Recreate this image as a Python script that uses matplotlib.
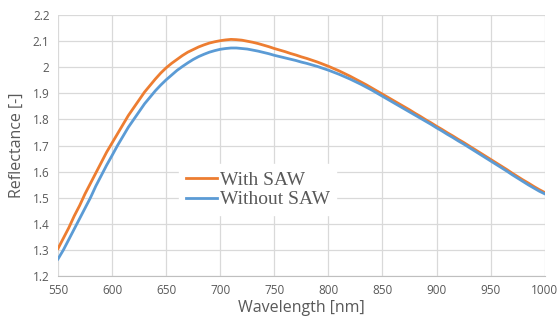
import matplotlib
matplotlib.use("Agg")
import matplotlib.pyplot as plt
import numpy as np
from matplotlib.ticker import FuncFormatter

# wavelength grid, read every 5 nm
wavelength = list(range(550, 1001, 5))

with_saw = [
    1.305, 1.345, 1.385, 1.430, 1.470, 1.515, 1.555, 1.595, 1.635, 1.675,
    1.710, 1.745, 1.780, 1.815, 1.845, 1.875, 1.905, 1.930, 1.955, 1.978,
    1.998, 2.015, 2.030, 2.045, 2.058, 2.068, 2.078, 2.086, 2.093, 2.098,
    2.102, 2.105, 2.107, 2.106, 2.104, 2.100, 2.096, 2.091, 2.085, 2.079,
    2.072, 2.066, 2.060, 2.053, 2.047, 2.040, 2.034, 2.027, 2.020, 2.012,
    2.004, 1.995, 1.986, 1.976, 1.966, 1.955, 1.944, 1.933, 1.921, 1.909,
    1.897, 1.885, 1.873, 1.861, 1.849, 1.837, 1.824, 1.812, 1.799, 1.787,
    1.774, 1.762, 1.749, 1.737, 1.724, 1.712, 1.699, 1.686, 1.673, 1.660,
    1.647, 1.634, 1.621, 1.608, 1.594, 1.581, 1.568, 1.556, 1.543, 1.531,
    1.520,
]

without_saw = [
    1.265, 1.300, 1.340, 1.380, 1.420, 1.460, 1.500, 1.545, 1.585, 1.625,
    1.662, 1.700, 1.735, 1.770, 1.800, 1.830, 1.860, 1.885, 1.910, 1.932,
    1.952, 1.970, 1.988, 2.003, 2.017, 2.030, 2.041, 2.050, 2.058, 2.064,
    2.069, 2.072, 2.074, 2.074, 2.072, 2.070, 2.066, 2.062, 2.057, 2.052,
    2.046, 2.041, 2.036, 2.031, 2.026, 2.020, 2.015, 2.009, 2.003, 1.996,
    1.989, 1.981, 1.973, 1.964, 1.955, 1.945, 1.935, 1.924, 1.913, 1.901,
    1.889, 1.877, 1.865, 1.853, 1.841, 1.829, 1.817, 1.805, 1.793, 1.781,
    1.768, 1.756, 1.743, 1.731, 1.718, 1.706, 1.693, 1.680, 1.667, 1.654,
    1.641, 1.628, 1.615, 1.602, 1.588, 1.575, 1.562, 1.549, 1.537, 1.525,
    1.515,
]

x_ticks = [550, 600, 650, 700, 750, 800, 850, 900, 950, 1000]
y_ticks = [1.2, 1.3, 1.4, 1.5, 1.6, 1.7, 1.8, 1.9, 2.0, 2.1, 2.2]

plt.rcParams['font.family'] = ['Open Sans', 'DejaVu Sans']

fig = plt.figure(figsize=(5.6, 3.22), dpi=100)
ax = fig.add_axes([0.1036, 0.143, 0.869, 0.810])

ax.plot(wavelength, with_saw, color='#ED7D31', lw=2.0, label='With SAW', zorder=3)
ax.plot(wavelength, without_saw, color='#5B9BD5', lw=2.0, label='Without SAW', zorder=3)

ax.set_xlim(550, 1000)
ax.set_ylim(1.2, 2.2)
ax.set_xticks(x_ticks)
ax.set_yticks(y_ticks)
ax.yaxis.set_major_formatter(FuncFormatter(lambda v, p: f"{v:g}"))
ax.grid(True, color='#d9d9d9', lw=0.9)
ax.set_axisbelow(True)
ax.tick_params(length=0, labelsize=8.5, labelcolor='#595959', pad=6)

for s in ['top', 'right', 'left']:
    ax.spines[s].set_visible(False)
ax.spines['bottom'].set_color('#bfbfbf')

ax.set_xlabel('Wavelength [nm]', fontsize=11.5, color='#595959', labelpad=2)
ax.set_ylabel('Reflectance [-]', fontsize=11.5, color='#595959', labelpad=6)

leg = ax.legend(loc='center', bbox_to_anchor=(0.41, 0.33), frameon=True,
                prop={'family': 'Liberation Serif', 'size': 14},
                handlelength=1.6, handletextpad=0.15, labelspacing=0.1,
                borderpad=0.35, fancybox=False)
leg.get_frame().set_edgecolor('white')
leg.get_frame().set_alpha(1.0)
for t in leg.get_texts():
    t.set_color('#595959')

fig.savefig('out.png', dpi=100)
